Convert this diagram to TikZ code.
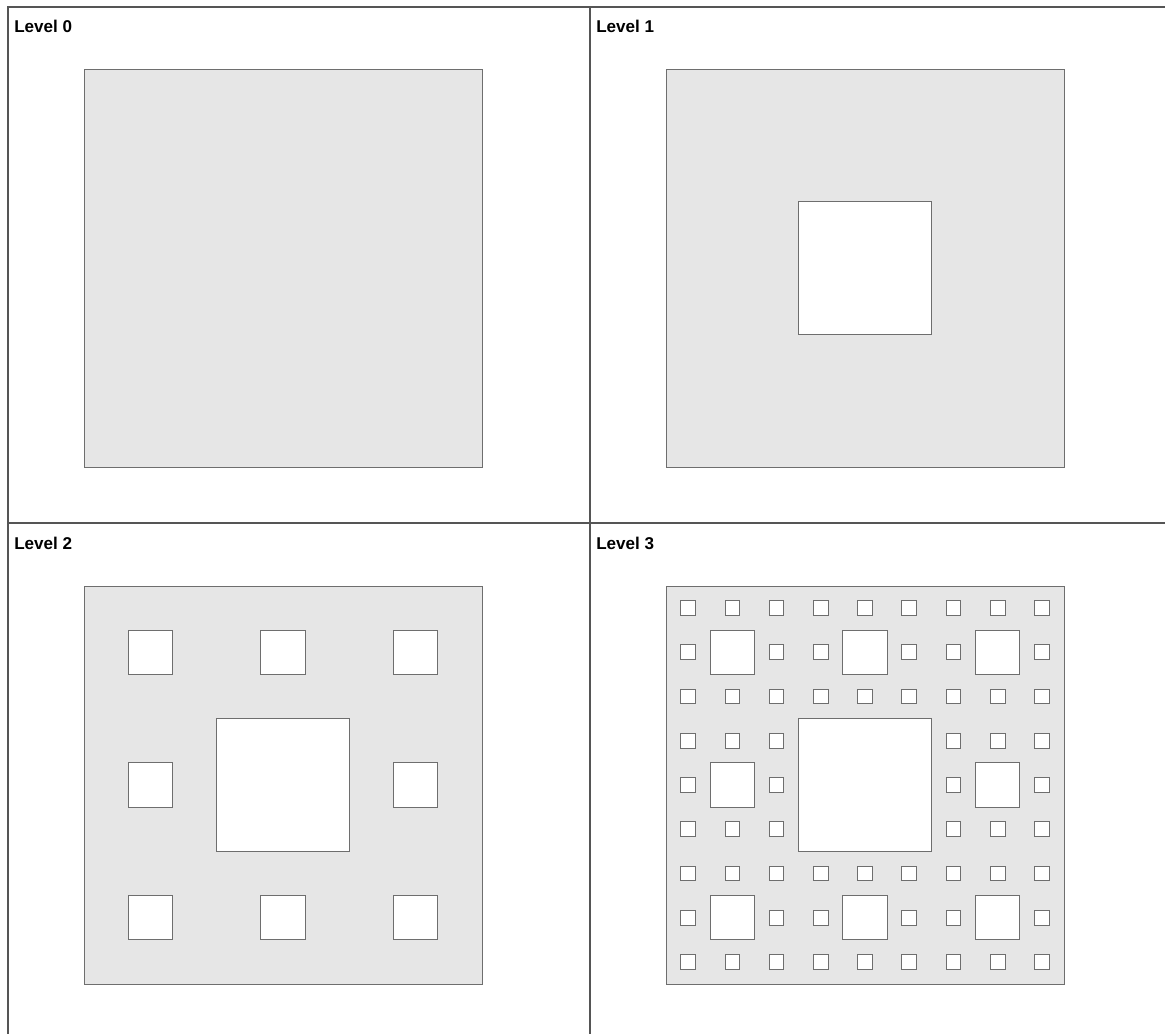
\documentclass[tikz,border=0pt]{standalone}
\usepackage{fontspec}
\setmainfont{Liberation Sans}
\definecolor{framegray}{HTML}{555555}
\definecolor{sqfill}{HTML}{E6E6E6}
\definecolor{sqline}{HTML}{6E6E6E}
\tikzset{
  frameline/.style={draw=framegray,line width=1pt},
  carpet/.style={draw=sqline,fill=sqfill,line width=0.7pt},
  hole/.style={draw=sqline,fill=white,line width=0.7pt},
  levellabel/.style={anchor=base west,inner sep=0pt,font=\fontsize{12.8}{15}\selectfont\bfseries}
}
\begin{document}
\begin{tikzpicture}[x=0.75pt,y=-0.75pt]
\def\S{398}
\useasboundingbox (0,0) rectangle (1165,1034);
% frame lines
\draw[frameline] (8,1034) -- (8,7) -- (1165,7);
\draw[frameline] (590,7) -- (590,1034);
\draw[frameline] (8,523) -- (1165,523);
% labels
\node[levellabel] (l0) at (14,33) {Level 0};
\node[levellabel] (l1) at (596,33) {Level 1};
\node[levellabel] (l2) at (14,549) {Level 2};
\node[levellabel] (l3) at (596,549) {Level 3};
% base squares
\draw[carpet] (84,69) rectangle +(\S,\S);
\draw[carpet] (666,69) rectangle +(\S,\S);
\draw[carpet] (84,586) rectangle +(\S,\S);
\draw[carpet] (666,586) rectangle +(\S,\S);
% level 1 hole
\draw[hole] ({666+\S/3},{69+\S/3}) rectangle +({\S/3},{\S/3});
% level 2
\draw[hole] ({84+\S/3},{586+\S/3}) rectangle +({\S/3},{\S/3});
\foreach \i in {0,1,2}{\foreach \j in {0,1,2}{
  \pgfmathtruncatemacro\skipA{(\i==1)&&(\j==1)}
  \ifnum\skipA=0
    \draw[hole] ({84+\i*\S/3+\S/9},{586+\j*\S/3+\S/9}) rectangle +({\S/9},{\S/9});
  \fi}}
% level 3
\draw[hole] ({666+\S/3},{586+\S/3}) rectangle +({\S/3},{\S/3});
\foreach \i in {0,1,2}{\foreach \j in {0,1,2}{
  \pgfmathtruncatemacro\skipA{(\i==1)&&(\j==1)}
  \ifnum\skipA=0
    \draw[hole] ({666+\i*\S/3+\S/9},{586+\j*\S/3+\S/9}) rectangle +({\S/9},{\S/9});
  \fi}}
\foreach \i in {0,...,8}{\foreach \j in {0,...,8}{
  \pgfmathtruncatemacro\skipA{(mod(\i,3)==1)&&(mod(\j,3)==1)}
  \pgfmathtruncatemacro\skipB{(int(\i/3)==1)&&(int(\j/3)==1)}
  \ifnum\skipA=0 \ifnum\skipB=0
    \draw[hole] ({666+\i*\S/9+\S/27},{586+\j*\S/9+\S/27}) rectangle +({\S/27},{\S/27});
  \fi\fi}}
\end{tikzpicture}
\end{document}
